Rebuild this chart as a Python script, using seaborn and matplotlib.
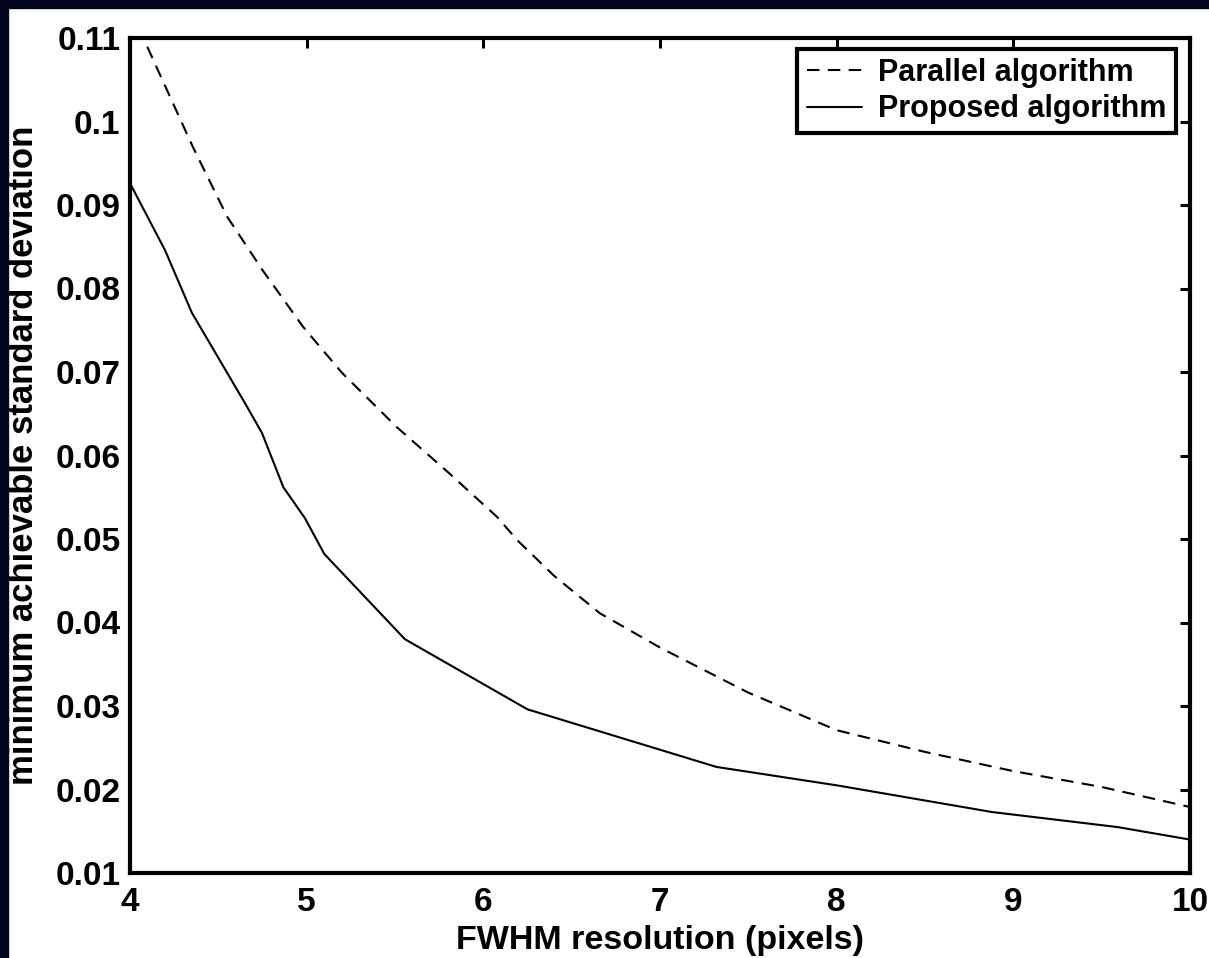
import matplotlib
matplotlib.use("Agg")
import matplotlib.pyplot as plt
import seaborn as sns
import pandas as pd
from matplotlib.patches import Rectangle

# ---- data ----
parallel_x = [4.0, 4.357, 4.55, 4.75, 4.98, 5.2, 5.51, 5.8, 6.08, 6.19, 6.4, 6.66, 7.0, 7.5, 8.0, 8.5, 9.0, 9.5, 10.0]
parallel_y = [0.1135, 0.0969, 0.0886, 0.0822, 0.0754, 0.0699, 0.0634, 0.0580, 0.0526, 0.0499, 0.0456, 0.0411, 0.0370, 0.0316, 0.0271, 0.0245, 0.0222, 0.0203, 0.0179]
proposed_x = [4.0, 4.198, 4.35, 4.5, 4.65, 4.747, 4.868, 4.99, 5.10, 5.556, 6.25, 7.32, 8.0, 8.88, 9.59, 10.0]
proposed_y = [0.0926, 0.0846, 0.0771, 0.0717, 0.0663, 0.0627, 0.0562, 0.0525, 0.0482, 0.0380, 0.0296, 0.0227, 0.0205, 0.0173, 0.0155, 0.0140]
series_names = ["Parallel algorithm", "Proposed algorithm"]
x_ticks = [4, 5, 6, 7, 8, 9, 10]
y_ticks = [0.01, 0.02, 0.03, 0.04, 0.05, 0.06, 0.07, 0.08, 0.09, 0.1, 0.11]
y_tick_labels = ["0.01", "0.02", "0.03", "0.04", "0.05", "0.06", "0.07", "0.08", "0.09", "0.1", "0.11"]

df = pd.concat([
    pd.DataFrame({"x": parallel_x, "y": parallel_y, "series": series_names[0]}),
    pd.DataFrame({"x": proposed_x, "y": proposed_y, "series": series_names[1]}),
], ignore_index=True)

sns.set_theme(style="white")
plt.rcParams["font.family"] = ["Liberation Sans", "DejaVu Sans"]
plt.rcParams["font.weight"] = "bold"

FS_TICK = 24
FS_XLABEL = 24.5
FS_YLABEL = 25
FS_LEG = 22

fig = plt.figure(figsize=(12.09, 9.58), dpi=100, facecolor="white")
ax = fig.add_axes([130 / 1209, 1 - 873 / 958, (1190 - 130) / 1209, (873 - 38) / 958])

sns.lineplot(data=df, x="x", y="y", hue="series", style="series",
             palette={series_names[0]: "black", series_names[1]: "black"},
             dashes={series_names[0]: (6, 4), series_names[1]: ""},
             linewidth=1.5, sort=False, estimator=None, ax=ax)

ax.set_xlim(4, 10)
ax.set_ylim(0.01, 0.11)
ax.set_xticks(x_ticks)
ax.set_xticklabels([str(t) for t in x_ticks])
ax.set_yticks(y_ticks)
ax.set_yticklabels(y_tick_labels)
ax.tick_params(direction="in", top=True, right=True, length=7, width=2.2,
               labelsize=FS_TICK, colors="black")
ax.tick_params(axis="x", pad=10)
ax.tick_params(axis="y", pad=7)
for lab in ax.get_xticklabels() + ax.get_yticklabels():
    lab.set_fontweight("bold")
for sp in ax.spines.values():
    sp.set_visible(True)
    sp.set_linewidth(3)
    sp.set_color("black")

ax.set_xlabel("FWHM resolution (pixels)", fontsize=FS_XLABEL, fontweight="bold", color="black")
ax.set_ylabel("minimum achievable standard deviation", fontsize=FS_YLABEL, fontweight="bold", color="black")
ax.xaxis.set_label_coords(0.5, (873 - 925) / 835)
ax.yaxis.set_label_coords((40 - 130) / 1060, 0.5)

leg = ax.legend(loc="upper right", bbox_to_anchor=(1176 / 1209, 1 - 49 / 958),
                bbox_transform=fig.transFigure, fontsize=FS_LEG, frameon=True,
                fancybox=False, handlelength=1.8, borderpad=0.3, labelspacing=0.2,
                handletextpad=0.55, borderaxespad=0, framealpha=1.0)
leg.get_frame().set_edgecolor("black")
leg.get_frame().set_linewidth(3)
leg.get_frame().set_alpha(1.0)
for t in leg.get_texts():
    t.set_fontweight("bold")
    t.set_color("black")
for h in leg.get_lines():
    h.set_linewidth(1.5)

# dark frame strips on the top and left edges
fig.patches.append(Rectangle((0, 0), 8 / 1209, 1, transform=fig.transFigure, color="#03061f", zorder=10))
fig.patches.append(Rectangle((0, 1 - 8 / 958), 1, 8 / 958, transform=fig.transFigure, color="#03061f", zorder=10))

fig.savefig("out.png", dpi=100, facecolor="white")
